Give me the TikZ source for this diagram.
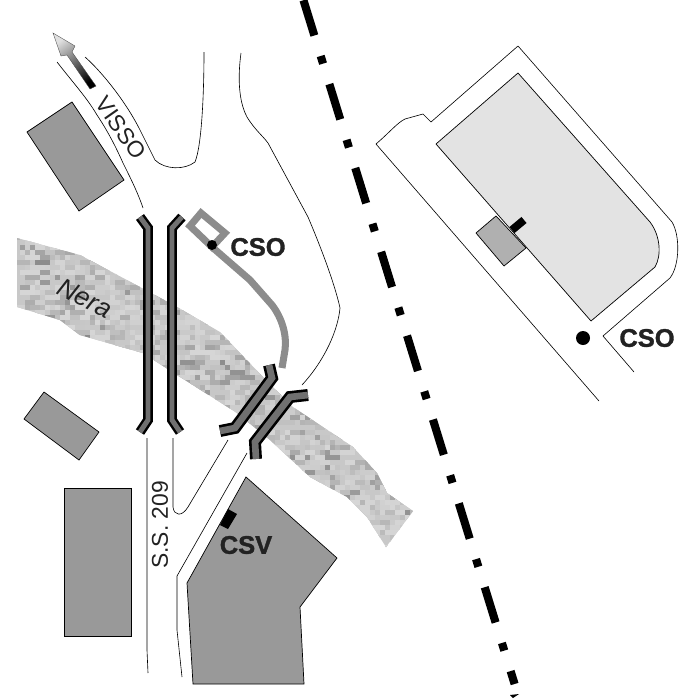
\documentclass[tikz,border=0pt]{standalone}
\usepackage{fontspec}
\setmainfont{Liberation Sans}
\newfontfamily\sitefont[FakeBold=1.4]{Liberation Sans Bold}
\definecolor{buildinggray}{HTML}{999999}
\definecolor{palegray}{HTML}{E3E3E3}
\definecolor{annexgray}{HTML}{B0B0B0}
\definecolor{pathgray}{HTML}{8C8C8C}
\definecolor{bridgegray}{HTML}{707070}
\definecolor{rivergray}{HTML}{C8C8C8}
\definecolor{labelgray}{HTML}{222222}
\tikzset{
    thinline/.style={draw=black,line width=0.35pt},
    building/.style={fill=buildinggray,draw=black,line width=0.4pt},
    bridgeout/.style={draw=black,line width=5.6pt,line join=miter},
    bridgein/.style={draw=bridgegray,line width=2.8pt,line join=miter},
    rampout/.style={draw=black,line width=6.8pt,line join=miter},
    rampin/.style={draw=bridgegray,line width=3.8pt,line join=miter},
    maplabel/.style={text=labelgray,inner sep=0pt},
    sitelabel/.style={maplabel,font=\fontsize{14.5}{14.5}\sitefont},
}
\begin{document}
\begin{tikzpicture}[x=0.02cm,y=-0.02cm]
    \useasboundingbox (0,0) rectangle (700,700);
    \def\riverpath{(17,238) -- (80,255) -- (140,287) -- (177,307) -- (220,332) -- (240,353) -- (263,377)
        -- (293,407) -- (353,447) -- (377,473) -- (387,493) -- (413,511) -- (386,547) -- (367,517)
        -- (347,497) -- (310,477) -- (270,440) -- (237,413) -- (177,375) -- (143,353) -- (80,335)
        -- (60,320) -- (17,307) -- cycle}
    \def\bridgewest{(140,217) -- (148,228) -- (148,420) -- (140,432)}
    \def\bridgeeast{(182,217) -- (172,228) -- (172,420) -- (180,432)}
    \def\bridgenorth{(269,365) -- (272,378) -- (235,428) -- (220,431)}
    \def\bridgesouth{(308,395) -- (290,397) -- (255,442) -- (256,459)}

    \fill[rivergray] \riverpath;
    \begin{scope}
        \clip \riverpath;
        \pgfmathsetseed{11}
        \foreach \i in {1,...,1300} {
            \pgfmathsetmacro\dx{5*round(395*rnd/5)}
            \pgfmathsetmacro\py{5*round((272+0.33*\dx+0.0008*\dx*\dx+(rnd-0.5)*90)/5)}
            \pgfmathsetmacro\tone{16+32*rnd*rnd}
            \pgfmathsetmacro\wd{5+5*round(rnd*2)}
            \fill[black!\tone] (15+\dx,\py) rectangle ++(\wd,5);
        }
    \end{scope}

    \draw[thinline] (57,62) .. controls (75,85) and (87,98) .. (97,115) .. controls (107,130) and (115,145) .. (123,163) .. controls (130,177) and (138,193) .. (143,208);
    \draw[thinline] (85,57) .. controls (100,70) and (125,100) .. (140,130) -- (155,160) .. controls (165,170) and (185,170) .. (195,162) .. controls (202,145) and (204,90) .. (204,52);
    \draw[thinline] (241,53) .. controls (238,75) and (238,100) .. (247,117) .. controls (255,130) and (262,135) .. (268,143) -- (308,217) .. controls (322,250) and (335,285) .. (340,308) .. controls (338,330) and (325,360) .. (302,385);
    \draw[thinline] (147,438) -- (147,650) -- (148,673);
    \draw[thinline] (173,438) -- (173,507) .. controls (174,516) and (182,517) .. (188,507) -- (228,440);
    \draw[thinline] (247,453) -- (177,576) -- (177,630) -- (182,677);

    \draw[thinline] (518,46) -- (672,222) .. controls (680,235) and (680,265) .. (670,278) -- (603,336) -- (634,372);
    \draw[thinline] (518,46) -- (431,122) -- (423,114) -- (405,119) .. controls (397,123) and (390,132) .. (376,144) -- (599,401);

    \draw[building] (72,102) -- (124,180) -- (79,211) -- (27,132) -- cycle;
    \draw[building] (44,392) -- (99,432) -- (79,460) -- (24,419) -- cycle;
    \draw[building] (64,488) rectangle (131,636);
    \draw[building] (246,477) -- (337,558) -- (300,607) -- (304,684) -- (193,684) -- (187,583) -- cycle;
    \fill[black] (220,525) -- (228,509) -- (237,514) -- (228,529) -- cycle;

    \draw[fill=palegray,line width=0.4pt] (518,73) -- (650,222) .. controls (660,235) and (662,255) .. (655,267) -- (591,321) -- (436,144) -- cycle;
    \draw[fill=annexgray,line width=0.4pt] (496,216) -- (526,248) -- (504,266) -- (476,233) -- cycle;
    \draw[black,line width=4.5pt] (512,230) -- (524,220);

    \draw[pathgray,line width=4pt] (201,213) -- (225,233) -- (212,247) -- (190,226) -- cycle;
    \draw[pathgray,line width=4pt] (212,247) -- (250,280) -- (272,305) .. controls (282,318) and (287,335) .. (285,350) -- (282,368);

    \draw[bridgeout] \bridgewest;
    \draw[bridgein] \bridgewest;
    \draw[bridgeout] \bridgeeast;
    \draw[bridgein] \bridgeeast;
    \draw[rampout] \bridgenorth;
    \draw[rampin] \bridgenorth;
    \draw[rampout] \bridgesouth;
    \draw[rampin] \bridgesouth;

    \fill[black] (212,245) circle (5);
    \fill[black] (583,338) circle (7);

    \draw[black,line width=4.6pt,dash pattern=on 4.55pt off 12.2pt on 21pt off 12.2pt,dash phase=16.6pt] (303.4,0) -- (514.6,684);
    \fill[black] (510,695) -- (519,694) -- (513,698) -- cycle;

    \shade[top color=black!12,middle color=black!45,bottom color=black,shading angle=36.5,draw=black!70,line width=0.2pt]
        (53,33) -- (75,46) -- (72,52) -- (96,86) -- (90,89) -- (67,55) -- (61,56) -- cycle;

    \node[sitelabel] (csonorth) at (258,247) {CSO};
    \node[sitelabel] (csoeast) at (647,338) {CSO};
    \node[sitelabel] (csv) at (246,545) {CSV};
    \node[maplabel,font=\fontsize{13}{13}\selectfont,rotate=-55] (visso) at (121,128) {VISSO};
    \node[maplabel,font=\fontsize{13}{13}\selectfont,rotate=90] (statale) at (160,525) {S.S. 209};
    \node[maplabel,font=\fontsize{15}{15}\selectfont\itshape,rotate=-27] (nera) at (85,298) {Nera};
\end{tikzpicture}
\end{document}
